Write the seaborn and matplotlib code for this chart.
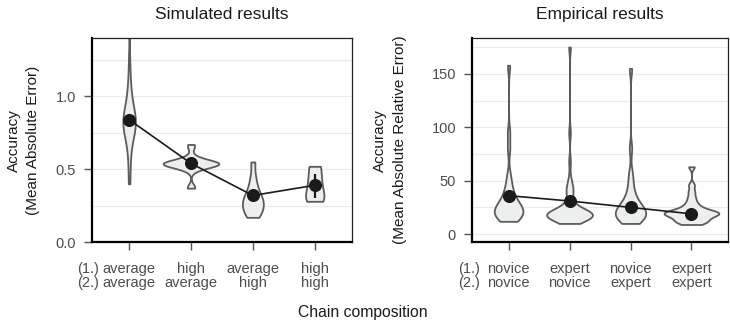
import numpy as np
import pandas as pd
import seaborn as sns
import matplotlib.pyplot as plt

###############################
######### data ################
###############################
sim_labels = ['average\naverage', 'high\naverage', 'average\nhigh', 'high\nhigh']
emp_labels = ['novice\nnovice', 'expert\nnovice', 'novice\nexpert', 'expert\nexpert']

## simulated results (mean absolute error), one list per chain type
sim_avg_avg = [0.40, 0.52, 0.62, 0.68, 0.72, 0.75, 0.77, 0.79, 0.80, 0.81, 0.82, 0.83,
               0.84, 0.85, 0.87, 0.89, 0.91, 0.94, 0.98, 1.05, 1.10, 1.25, 1.55]
sim_high_avg = [0.37, 0.38, 0.49, 0.51, 0.52, 0.52, 0.53, 0.53, 0.53, 0.53, 0.54, 0.54,
                0.54, 0.54, 0.54, 0.55, 0.55, 0.55, 0.56, 0.57, 0.59, 0.65, 0.67]
sim_avg_high = [0.17, 0.19, 0.21, 0.23, 0.25, 0.27, 0.28, 0.30, 0.32, 0.35, 0.39, 0.45, 0.55]
sim_high_high = [0.28, 0.33, 0.42, 0.52]

sim_mean = [0.84, 0.54, 0.32, 0.39]
sim_lo = [0.82, 0.50, 0.30, 0.30]
sim_hi = [0.86, 0.58, 0.34, 0.47]

## empirical results (mean absolute relative error)
emp_nov_nov = [12, 13, 15, 16, 17, 18, 19, 20, 21, 22, 23, 24, 25, 26, 28, 30, 32, 35,
               38, 42, 48, 55, 80, 95, 158]
emp_exp_nov = [10, 12, 13, 14, 15, 15, 16, 16, 16, 17, 17, 17, 17, 17, 18, 18, 18, 18,
               18, 19, 19, 19, 19, 20, 20, 20, 21, 21, 22, 23, 25, 28, 33, 38, 41, 43,
               45, 52, 68, 95, 175]
emp_nov_exp = [10, 11, 13, 14, 15, 16, 17, 18, 19, 20, 21, 22, 23, 24, 25, 27, 29, 31,
               34, 38, 43, 50, 58, 80, 155]
emp_exp_exp = [9, 10, 11, 12, 13, 14, 15, 16, 17, 18, 18, 19, 19, 20, 20, 21, 21, 22,
               23, 24, 26, 28, 31, 35, 40, 46, 63]

emp_mean = [36, 31, 25, 19]
emp_lo = [34, 29, 23, 18]
emp_hi = [38, 33, 27, 20]

sim_data = pd.concat([pd.DataFrame({'comp': lab, 'value': vals}) for lab, vals in
                      zip(sim_labels, [sim_avg_avg, sim_high_avg, sim_avg_high, sim_high_high])])
emp_data = pd.concat([pd.DataFrame({'comp': lab, 'value': vals}) for lab, vals in
                      zip(emp_labels, [emp_nov_nov, emp_exp_nov, emp_nov_exp, emp_exp_exp])])

###############################
############ plot #############
###############################
sns.set_theme(style='white')
plt.rcParams['font.family'] = ['Liberation Sans', 'DejaVu Sans']

fig = plt.figure(figsize=(7.3, 3.22), dpi=100)
ax1 = fig.add_axes([0.126, 0.248, 0.356, 0.634])
ax2 = fig.add_axes([0.6466, 0.248, 0.3507, 0.634])

panels = [
    (ax1, sim_data, sim_labels, sim_mean, sim_lo, sim_hi, 0.7, 'Simulated results',
     'Accuracy\n(Mean Absolute Error)', -0.2, (0, 1.4), [0, 0.5, 1.0],
     [0.25, 0.75, 1.25], '{:.1f}'),
    (ax2, emp_data, emp_labels, emp_mean, emp_lo, emp_hi, 0.4, 'Empirical results',
     'Accuracy\n(Mean Absolute Relative Error)', -0.255, (-7.5, 183.5), [0, 50, 100, 150],
     [25, 75, 125, 175], '{:.0f}'),
]

grey_txt = '#4D4D4D'
for ax, data, labels, mean, lo, hi, bw, title, ylabel, ylab_x, ylim, major, minor, fmt in panels:
    sns.violinplot(data=data, x='comp', y='value', order=labels, cut=0,
                   density_norm='area', width=0.9, inner=None, bw_adjust=bw,
                   color='#EDEEEE', linecolor='#5C5C5C', linewidth=1.3,
                   saturation=1, ax=ax, zorder=2)
    ax.vlines(np.arange(len(labels)), lo, hi, color='#1A1A1A', linewidth=1.6, zorder=4)
    sns.pointplot(x=labels, y=mean, color='#1A1A1A', errorbar=None,
                  markersize=8.5, linewidth=1.2, ax=ax, zorder=5)

    ax.set_xlim(-0.6, 3.6)
    ax.set_ylim(*ylim)
    ax.set_yticks(major)
    ax.set_yticklabels([fmt.format(v) for v in major])
    ax.set_yticks(minor, minor=True)
    ax.grid(which='both', axis='y', color='#EBEBEB', linewidth=0.9, zorder=0)
    ax.set_axisbelow(True)

    ax.tick_params(axis='both', which='major', length=5.5, width=1.0, color='#555555',
                   labelsize=10.5, labelcolor=grey_txt, left=True, bottom=True)
    ax.tick_params(axis='x', pad=9)
    ax.tick_params(axis='y', pad=6)
    ax.tick_params(axis='y', which='minor', left=False)
    for lab in ax.get_xticklabels():
        lab.set_linespacing(1.0)
    for side in ['left', 'bottom']:
        ax.spines[side].set_linewidth(1.6)
        ax.spines[side].set_color('black')
    for side in ['top', 'right']:
        ax.spines[side].set_linewidth(0.9)
        ax.spines[side].set_color('#222222')

    ax.set_xlabel('')
    ax.set_ylabel(ylabel, fontsize=11, color='#1A1A1A', linespacing=1.5)
    ax.yaxis.set_label_coords(ylab_x, 0.5)
    ax.set_title(title, fontsize=12.5, color='#1A1A1A', pad=13.5)

## the (1.) / (2.) row markers left of the first tick label
for ax, xpos in [(ax1, 0.027), (ax2, 0.03)]:
    ax.annotate('(1.)\n(2.)', xy=(xpos, 0), xycoords='axes fraction', xytext=(0, -14.5),
                textcoords='offset points', ha='right', va='top', fontsize=10.5,
                color=grey_txt, linespacing=1.0)

fig.text(0.4964, 0.0165, 'Chain composition', ha='center', va='baseline', fontsize=11.3,
         color='#1A1A1A')

fig.savefig('out.png', dpi=100)
